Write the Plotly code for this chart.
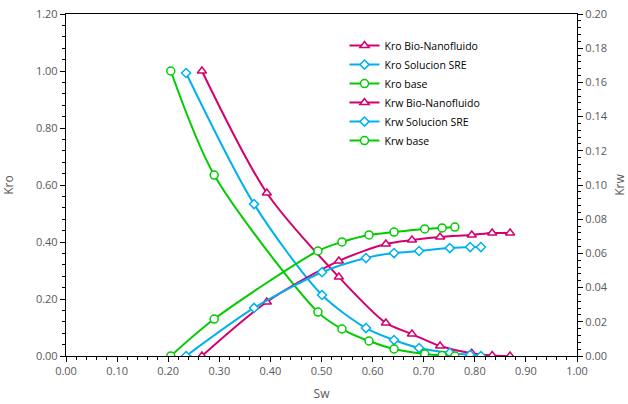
import plotly.graph_objects as go

# Bio-Nanofluido
sw_bio = [0.266, 0.393, 0.534, 0.626, 0.677, 0.732, 0.794, 0.834, 0.869]
kro_bio = [1.00, 0.572, 0.277, 0.116, 0.077, 0.035, 0.010, 0.002, 0.000]
krw_bio = [0.000, 0.0316, 0.0556, 0.0655, 0.0678, 0.0696, 0.0708, 0.0719, 0.0719]

# Solucion SRE
sw_sre = [0.235, 0.368, 0.501, 0.587, 0.642, 0.691, 0.751, 0.791, 0.812]
kro_sre = [0.993, 0.533, 0.214, 0.098, 0.056, 0.028, 0.011, 0.004, 0.000]
krw_sre = [0.000, 0.0281, 0.0490, 0.0573, 0.0602, 0.0614, 0.0631, 0.0637, 0.0637]

# base
sw_base = [0.205, 0.290, 0.493, 0.540, 0.593, 0.642, 0.702, 0.736, 0.761]
kro_base = [1.00, 0.635, 0.154, 0.0947, 0.0526, 0.0246, 0.007, 0.002, 0.000]
krw_base = [0.000, 0.0216, 0.0614, 0.0667, 0.0708, 0.0725, 0.0743, 0.0749, 0.0754]

MAG = "#D4006E"
BLU = "#00B0F0"
GRN = "#00CC00"
FONT = "Open Sans"
GRAY = "#595959"

def tr(x, y, name, color, symbol, axis):
    return go.Scatter(
        x=x, y=y, name=name, yaxis=axis, mode="lines+markers",
        line=dict(color=color, width=2, shape="spline", smoothing=0.8),
        marker=dict(symbol=symbol, size=8 if symbol != "diamond" else 7,
                    color="white", line=dict(color=color, width=1.5)),
    )

fig = go.Figure()
fig.add_trace(tr(sw_bio, kro_bio, "Kro Bio-Nanofluido", MAG, "triangle-up", "y"))
fig.add_trace(tr(sw_sre, kro_sre, "Kro Solucion SRE", BLU, "diamond", "y"))
fig.add_trace(tr(sw_base, kro_base, "Kro base", GRN, "circle", "y"))
fig.add_trace(tr(sw_bio, krw_bio, "Krw Bio-Nanofluido", MAG, "triangle-up", "y2"))
fig.add_trace(tr(sw_sre, krw_sre, "Krw Solucion SRE", BLU, "diamond", "y2"))
fig.add_trace(tr(sw_base, krw_base, "Krw base", GRN, "circle", "y2"))

axis_common = dict(showgrid=False, zeroline=False, showline=True, linecolor="black",
                   linewidth=1.3, ticks="outside", ticklen=5, tickcolor="black",
                   automargin=False,
                   tickfont=dict(family=FONT, size=11, color=GRAY))

fig.update_layout(
    width=628, height=404,
    margin=dict(l=66, r=51, t=14, b=48),
    plot_bgcolor="white", paper_bgcolor="white",
    font=dict(family=FONT, size=11, color=GRAY),
    showlegend=True,
    legend=dict(x=0.545, y=0.95, xanchor="left", yanchor="top",
                bgcolor="rgba(0,0,0,0)", font=dict(family=FONT, size=10.5, color="black"),
                tracegroupgap=0, itemwidth=30),
    xaxis=dict(range=[0, 1], dtick=0.1, tickformat=".2f", mirror=True,
               title=dict(text="Sw", font=dict(family=FONT, size=12, color=GRAY), standoff=12),
               minor=dict(dtick=0.02, ticks="outside", ticklen=3, tickcolor="black"),
               **axis_common),
    yaxis=dict(range=[0, 1.2], dtick=0.2, tickformat=".2f",
               title=dict(text="Kro", font=dict(family=FONT, size=12, color=GRAY), standoff=20),
               minor=dict(dtick=0.04, ticks="outside", ticklen=3, tickcolor="black"),
               **axis_common),
    yaxis2=dict(range=[0, 0.2], dtick=0.02, tickformat=".2f", overlaying="y", side="right",
                title=dict(text="Krw", font=dict(family=FONT, size=12, color=GRAY), standoff=13),
                minor=dict(dtick=0.004, ticks="outside", ticklen=3, tickcolor="black"),
                **axis_common),
)

fig.write_html("out.html")
